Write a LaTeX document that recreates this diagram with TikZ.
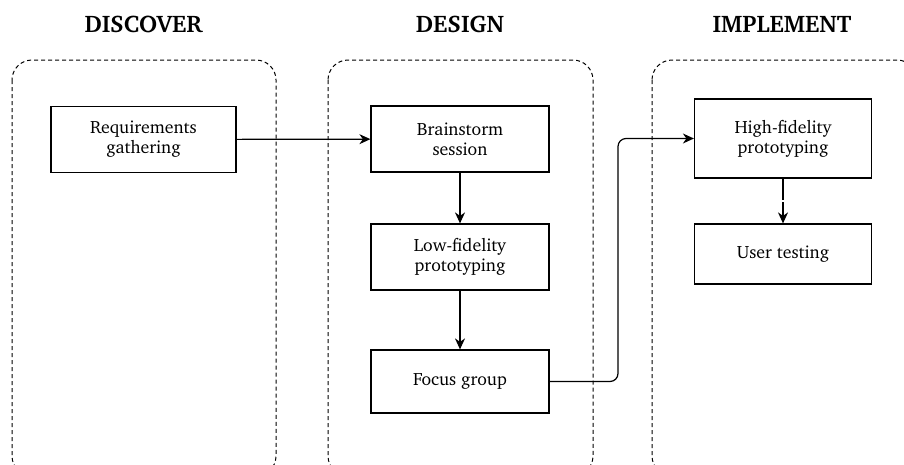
\documentclass[tikz,border=0pt]{standalone}
\usepackage[T1]{fontenc}
\renewcommand\rmdefault{bch}
\usetikzlibrary{arrows.meta}
\begin{document}
\begin{tikzpicture}[x=1pt,y=-1pt,
  phase/.style={draw,dashed,dash pattern=on 4pt off 3pt,line width=1pt,rounded corners=20pt},
  title/.style={font=\fontsize{24}{28}\selectfont\bfseries},
  task/.style={draw,line width=1.2pt,align=center,minimum width=178pt,minimum height=66pt,
    font=\fontsize{17.8}{20}\selectfont,inner sep=0pt},
  flow/.style={line width=1.2pt,-{Stealth[length=11pt,width=10pt,inset=3.5pt]}}]
\useasboundingbox (0,0) rectangle (904,464);
\clip (0,0) rectangle (904,464);
% phase containers
\draw[phase] (12,60) rectangle (276,476);
\draw[phase] (328,60) rectangle (593,476);
\draw[phase] (652,60) rectangle (917,476);
% phase titles
\node[title] (tdiscover) at (143.5,24) {DISCOVER};
\node[title] (tdesign) at (460,24) {DESIGN};
\node[title] (timplement) at (782,24) {IMPLEMENT};
% tasks
\node[task,minimum width=185pt] (req) at (143.5,139.5) {Requirements\\gathering};
\node[task] (brain) at (460,139) {Brainstorm\\session};
\node[task] (low) at (460,257) {Low-fidelity\\prototyping};
\node[task,minimum height=63pt] (focus) at (460,381.5) {Focus group};
\node[task,minimum width=177pt,minimum height=79pt] (high) at (783,138.5) {High-fidelity\\prototyping};
\node[task,minimum width=177pt,minimum height=60pt] (user) at (783,254) {User testing};
% connectors
\coordinate (bend) at (618,0);
\draw[flow] (req) -- (brain);
\draw[flow] (brain) -- (low);
\draw[flow] (low) -- (focus);
\draw[flow,rounded corners=8pt] (focus.east) -- (focus.east -| bend) |- (high.west);
\draw[flow,dash pattern=on 21pt off 2.5pt on 100pt] (high) -- (user);
\end{tikzpicture}
\end{document}
